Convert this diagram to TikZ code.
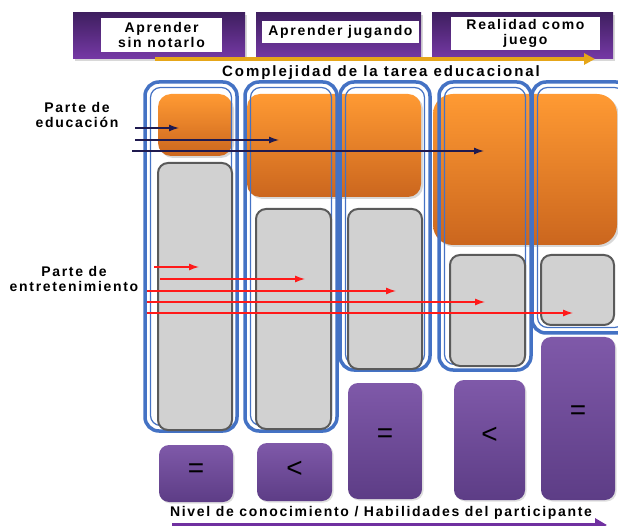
\documentclass[tikz,border=0pt]{standalone}
\usepackage{fontspec}
\setmainfont{Liberation Sans}[LetterSpace=12]
\newfontfamily\titlefont{Liberation Sans}[LetterSpace=13]
\usetikzlibrary{arrows.meta}
\usetikzlibrary{shadows}

\definecolor{topPurpleA}{HTML}{3F1F60}
\definecolor{topPurpleB}{HTML}{7639A6}
\definecolor{frameBlue}{HTML}{4472C4}
\definecolor{eduTop}{HTML}{FF9A33}
\definecolor{eduBot}{HTML}{CB661E}
\definecolor{funFill}{HTML}{D1D1D1}
\definecolor{funDraw}{HTML}{5A5A5A}
\definecolor{lvlTop}{HTML}{7F59A9}
\definecolor{lvlBot}{HTML}{5D3D86}
\definecolor{goldArrow}{HTML}{E6A619}
\definecolor{navyArrow}{HTML}{1F1A4F}
\definecolor{redArrow}{HTML}{FF1A1A}
\definecolor{lvlArrow}{HTML}{7030A0}

\newcommand{\diagfont}{\fontsize{14}{15}\selectfont\bfseries}

\begin{document}
\begin{tikzpicture}[
        x=1pt, y=-1pt,
        topbox/.style={rectangle, top color=topPurpleA, bottom color=topPurpleB, draw=none,
            drop shadow={shadow xshift=2pt, shadow yshift=-2pt, fill=black!30}},
        toplabel/.style={rectangle, fill=white, align=center, inner sep=0pt, font=\diagfont},
        edubox/.style={rectangle, rounded corners=13pt, top color=eduTop, bottom color=eduBot, draw=none,
            drop shadow={shadow xshift=2pt, shadow yshift=-2pt, fill=black!30}},
        funbox/.style={rectangle, rounded corners=10pt, fill=funFill, draw=funDraw, line width=2pt},
        lvlbox/.style={rectangle, rounded corners=10pt, top color=lvlTop, bottom color=lvlBot, draw=none,
            drop shadow={shadow xshift=1.5pt, shadow yshift=-1.5pt, fill=black!25}},
        sym/.style={font=\fontsize{28}{30}\selectfont, yshift=3pt},
        frameOut/.style={draw=frameBlue, line width=3.5pt, rounded corners=14pt},
        frameIn/.style={draw=frameBlue, line width=1.2pt, rounded corners=10pt},
        label/.style={align=center, font=\diagfont, inner sep=0pt},
        eduArrow/.style={-{Latex[length=10pt, width=7pt]}, line width=1.3pt, color=navyArrow},
        funArrow/.style={-{Latex[length=10pt, width=7pt]}, line width=1.2pt, color=redArrow},
        cmplxArrow/.style={-{Triangle[length=11pt, width=11pt]}, line width=4pt, color=goldArrow},
        lvlArrowStyle/.style={-{Triangle[length=12pt, width=13pt]}, line width=5pt, color=lvlArrow}
    ]

        \useasboundingbox (0,0) rectangle (618,526);
        \clip (0,0) rectangle (618,526);

        % top bar
        \node[topbox, minimum width=172, minimum height=46] (topA) at (159,36) {};
        \node[topbox, minimum width=165, minimum height=46] (topB) at (338.5,36) {};
        \node[topbox, minimum width=181, minimum height=46] (topC) at (522.5,36) {};
        \node[toplabel, minimum width=121, minimum height=34] (labA) at (161.5,35) {Aprender\\sin notarlo};
        \node[toplabel, minimum width=157, minimum height=22] (labB) at (340.5,32) {Aprender jugando};
        \node[toplabel, minimum width=149, minimum height=33] (labC) at (525.5,33.5) {Realidad como\\juego};

        \coordinate (cmplxS) at (155,59);
        \coordinate (cmplxT) at (595,59);
        \draw[cmplxArrow] (cmplxS) -- (cmplxT);
        \node[label, font=\fontsize{15}{16}\selectfont\bfseries\titlefont, anchor=base] (cmplx) at (381,77) {Complejidad de la tarea educacional};

        % education parts
        \node[edubox, minimum width=74, minimum height=62] (edu1) at (195,125) {};
        \node[edubox, minimum width=174, minimum height=103] (edu2) at (334,145.5) {};
        \node[edubox, rounded corners=20pt, minimum width=184, minimum height=151] (edu3) at (525,169.5) {};

        % columns
        \foreach \xa/\ya/\xb/\yb in {145/82/237/431, 245/82/337/431, 340/82/430/370, 439/82/531/370, 532/82/630/333} {
            \draw[frameOut] (\xa,\ya) rectangle (\xb,\yb);
            \draw[frameIn] (\xa+5.5,\ya+5.5) rectangle (\xb-5.5,\yb-5.5);
        }

        % entertainment parts
        \node[funbox, minimum width=74, minimum height=267] (fun1) at (195,296.5) {};
        \node[funbox, minimum width=75, minimum height=220] (fun2) at (293.5,319) {};
        \node[funbox, minimum width=74, minimum height=160] (fun3) at (385,289) {};
        \node[funbox, minimum width=75, minimum height=111] (fun4) at (487.5,310.5) {};
        \node[funbox, minimum width=73, minimum height=70] (fun5) at (577.5,290) {};

        % participant level
        \node[lvlbox, minimum width=74, minimum height=57] (lvl1) at (196,473.5) {};
        \node[lvlbox, minimum width=75, minimum height=58] (lvl2) at (294.5,472) {};
        \node[lvlbox, minimum width=74, minimum height=116] (lvl3) at (385,441) {};
        \node[lvlbox, minimum width=71, minimum height=120] (lvl4) at (489.5,440) {};
        \node[lvlbox, minimum width=74, minimum height=163] (lvl5) at (578,418.5) {};
        \node[sym] at (lvl1) {=};
        \node[sym] at (lvl2) {<};
        \node[sym, yshift=2pt] at (lvl3) {=};
        \node[sym, yshift=2pt] at (lvl4) {<};
        \node[sym, yshift=3pt] at (lvl5) {=};

        % left labels
        \node[label] (eduLabel) at (77,115) {Parte de\\educación};
        \node[label] (funLabel) at (74,279) {Parte de\\entretenimiento};

        % arrows
        \foreach \i/\xs/\xt/\y in {1/135/179/128, 2/135/279/140, 3/132/484/151} {
            \coordinate (eduS\i) at (\xs,\y);
            \coordinate (eduT\i) at (\xt,\y);
            \draw[eduArrow] (eduS\i) -- (eduT\i);
        }
        \foreach \i/\xs/\xt/\y in {1/154/199/267, 2/160/305/279, 3/147/396/291, 4/147/485/302, 5/147/573/313} {
            \coordinate (funS\i) at (\xs,\y);
            \coordinate (funT\i) at (\xt,\y);
            \draw[funArrow] (funS\i) -- (funT\i);
        }

        % bottom axis
        \node[label, anchor=base] (lvlText) at (381,516) {Nivel de conocimiento / Habilidades del participante};
        \coordinate (lvlS) at (172,525);
        \coordinate (lvlT) at (607,525);
        \draw[lvlArrowStyle] (lvlS) -- (lvlT);
    \end{tikzpicture}
\end{document}
